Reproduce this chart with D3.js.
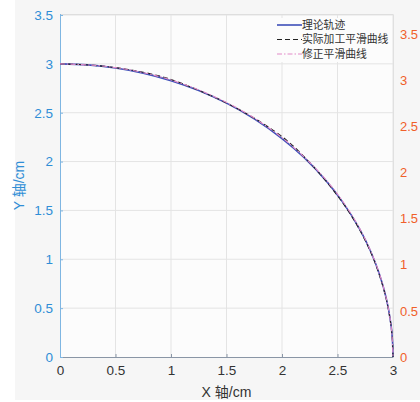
<!DOCTYPE html>
<html>
<head>
<meta charset="utf-8">
<script src="https://cdn.jsdelivr.net/npm/d3@7"></script>
<style>
  body { margin: 0; background: #fff; }
  svg { display: block; font-family: "Liberation Sans", Arial, "Noto Sans CJK SC", sans-serif; }
</style>
</head>
<body>
<svg id="chart"></svg>
<script>
const width = 420;
const height = 402;
const plotLeft = 60, plotRight = 393, plotTop = 14, plotBottom = 357;

// 理论轨迹
const theoryX = [0, 0.25, 0.5, 0.75, 1.0, 1.25, 1.5, 1.75, 2.0, 2.2, 2.4, 2.55, 2.7, 2.8, 2.88, 2.94, 2.98, 2.995, 3.0];
const theoryY = [3.0, 2.99, 2.958, 2.905, 2.828, 2.727, 2.598, 2.437, 2.236, 2.04, 1.8, 1.58, 1.308, 1.077, 0.84, 0.597, 0.346, 0.173, 0];
// 实际加工平滑曲线
const actualX = [0, 0.3, 0.6, 0.9, 1.05, 1.2, 1.5, 1.8, 2.05, 2.25, 2.45, 2.6, 2.7, 2.8, 2.88, 2.94, 2.98, 2.995, 3.0];
const actualY = [3.0, 2.985, 2.945, 2.875, 2.82, 2.752, 2.6, 2.41, 2.21, 1.99, 1.725, 1.49, 1.3, 1.072, 0.83, 0.59, 0.34, 0.17, 0];
// 修正平滑曲线
const fixedX = [0, 0.4, 0.8, 1.2, 1.6, 1.9, 2.15, 2.4, 2.6, 2.75, 2.86, 2.93, 2.97, 2.99, 3.0];
const fixedY = [3.0, 2.976, 2.897, 2.756, 2.545, 2.33, 2.1, 1.808, 1.505, 1.205, 0.91, 0.645, 0.42, 0.24, 0];

const xTicks = [0, 0.5, 1, 1.5, 2, 2.5, 3];
const yTicks = [0, 0.5, 1, 1.5, 2, 2.5, 3, 3.5];
const legendNames = ["理论轨迹", "实际加工平滑曲线", "修正平滑曲线"];

const blue = "#2f8ed6";
const orange = "#f0602a";

const svg = d3.select("#chart")
    .attr("width", width)
    .attr("height", height);

svg.append("rect")
    .attr("x", 15).attr("y", 0)
    .attr("width", width - 15).attr("height", 400)
    .attr("fill", "#f6f6f6");

const x = d3.scaleLinear().domain([0, 3]).range([plotLeft, plotRight]);
const y = d3.scaleLinear().domain([0, 3.5]).range([plotBottom, 15]);
const y2 = d3.scaleLinear().domain([0, 3.72]).range([plotBottom, plotTop]);

svg.append("rect")
    .attr("x", plotLeft).attr("y", plotTop)
    .attr("width", plotRight - plotLeft).attr("height", plotBottom - plotTop)
    .attr("fill", "#fcfcfc");

// 网格
const grid = svg.append("g").attr("stroke", "#e4e4e4").attr("stroke-width", 1);
grid.selectAll(".gx").data(xTicks.slice(1)).join("line")
    .attr("x1", d => x(d)).attr("x2", d => x(d))
    .attr("y1", plotTop).attr("y2", plotBottom);
grid.selectAll(".gy").data(yTicks.slice(1)).join("line")
    .attr("x1", plotLeft).attr("x2", plotRight)
    .attr("y1", d => y(d)).attr("y2", d => y(d));
svg.append("line")
    .attr("x1", plotLeft).attr("x2", plotRight).attr("y1", plotTop + 0.5).attr("y2", plotTop + 0.5)
    .attr("stroke", "#dedede");

// 坐标轴
const xAxis = svg.append("g")
    .attr("transform", `translate(0,${plotBottom})`)
    .call(d3.axisBottom(x).tickValues(xTicks).tickFormat(d3.format("")).tickSizeInner(-3).tickSizeOuter(0).tickPadding(8));
xAxis.select(".domain").attr("stroke", "#8a96a6");
xAxis.selectAll(".tick line").attr("stroke", "#8a96a6");
xAxis.selectAll("text").attr("fill", "#333").attr("font-size", 13.5);

const yAxis = svg.append("g")
    .attr("transform", `translate(${plotLeft},0)`)
    .call(d3.axisLeft(y).tickValues(yTicks).tickFormat(d3.format("")).tickSizeInner(-3).tickSizeOuter(0).tickPadding(7));
yAxis.select(".domain").attr("stroke", "#7fb6e2").attr("d", `M0.5,${plotTop}V${plotBottom}`);
yAxis.selectAll(".tick line").attr("stroke", "#7fb6e2");
yAxis.selectAll("text").attr("fill", blue).attr("font-size", 13.5);

const y2Axis = svg.append("g")
    .attr("transform", `translate(${plotRight},0)`)
    .call(d3.axisRight(y2).tickValues(yTicks).tickFormat(d3.format("")).tickSize(0).tickPadding(7));
y2Axis.select(".domain").attr("stroke", "#e0e0e0");
y2Axis.selectAll("text").attr("fill", orange).attr("font-size", 13);

// 轴标题
svg.append("text")
    .attr("x", (plotLeft + plotRight) / 2).attr("y", 397)
    .attr("text-anchor", "middle")
    .attr("font-size", 14).attr("fill", "#333")
    .text("X 轴/cm");
svg.append("text")
    .attr("transform", `translate(24,${(plotTop + plotBottom) / 2}) rotate(-90)`)
    .attr("text-anchor", "middle")
    .attr("font-size", 14).attr("fill", blue)
    .text("Y 轴/cm");

// 曲线
const line = d3.line()
    .x(d => x(d[0]))
    .y(d => y(d[1]))
    .curve(d3.curveCatmullRom);

const series = [
    {xs: theoryX, ys: theoryY, color: "#3d4fb8", dash: null, w: 1.6},
    {xs: actualX, ys: actualY, color: "#222", dash: "5,3", w: 1.1},
    {xs: fixedX, ys: fixedY, color: "#e28ac8", dash: "5,2,1.5,2", w: 1.1}
];

svg.append("g").selectAll("path")
    .data(series)
    .join("path")
    .attr("d", s => line(d3.zip(s.xs, s.ys)))
    .attr("fill", "none")
    .attr("stroke", s => s.color)
    .attr("stroke-width", s => s.w)
    .attr("stroke-dasharray", s => s.dash);

// 图例
const legend = svg.append("g");
legend.append("rect")
    .attr("x", 274).attr("y", 18)
    .attr("width", 118).attr("height", 44)
    .attr("fill", "#fcfcfc");
const rows = legend.selectAll(".row")
    .data(series)
    .join("g")
    .attr("transform", (d, i) => `translate(277,${25 + i * 14.5})`);
rows.append("line")
    .attr("x1", 0).attr("x2", 25)
    .attr("stroke", d => d.color)
    .attr("stroke-width", d => d.w)
    .attr("stroke-dasharray", d => d.dash);
rows.append("text")
    .attr("x", 25).attr("dy", "0.35em")
    .attr("font-family", "'Noto Sans CJK SC', sans-serif")
    .attr("font-size", 10.8).attr("fill", "#333")
    .text((d, i) => legendNames[i]);
</script>
</body>
</html>
